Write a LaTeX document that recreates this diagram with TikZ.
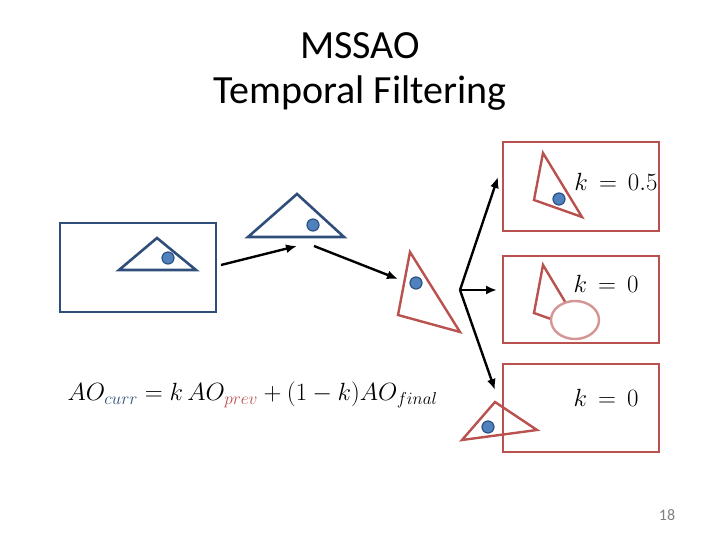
\documentclass[tikz,border=0pt]{standalone}
\usepackage{amsmath}
\usepackage{fontspec}
\setmainfont{Carlito}
\usepackage{tikz}
\usetikzlibrary{arrows.meta}

\definecolor{frameblue}{HTML}{2F4E79}
\definecolor{dotblue}{HTML}{4F81BD}
\definecolor{dotedge}{HTML}{2E5286}
\definecolor{framered}{HTML}{B9514E}
\definecolor{palered}{HTML}{D59593}

\tikzset{
  bluebox/.style={draw=frameblue, line width=2.6pt},
  redbox/.style={draw=framered, line width=2.6pt},
  bluetri/.style={draw=frameblue, line width=2.6pt, line join=miter},
  redtri/.style={draw=framered, line width=2.4pt, line join=miter},
  sample/.style={fill=dotblue, draw=dotedge, line width=1.2pt},
  flow/.style={black, line width=2.4pt, -{Latex[length=11pt,width=9pt]}},
  klabel/.style={font=\fontsize{23}{26}\selectfont}
}

\begin{document}
\begin{tikzpicture}[x=1pt,y=-1pt]
                    \useasboundingbox (0,0) rectangle (720,540);
                    % title
                    \node[font=\fontsize{40}{46}\selectfont] (title) at (360,46) {MSSAO};
                    \node[font=\fontsize{40}{46}\selectfont] (subtitle) at (360,93) {Temporal Filtering};
                    % current frame
                    \draw[bluebox] (60,223) rectangle (216,312);
                    \draw[bluetri] (119,270) -- (157,238) -- (196,270) -- cycle;
                    \draw[sample] (168,258) circle (6pt);
                    % previous position
                    \draw[bluetri] (248,237) -- (297,194) -- (344,237) -- cycle;
                    \draw[sample] (313,225) circle (6pt);
                    % reprojected
                    \draw[redtri] (410,252) -- (398,315) -- (460,332) -- cycle;
                    \draw[sample] (416,283) circle (6pt);
                    % three cases
                    \draw[redbox] (503,142) rectangle (659,231);
                    \draw[redtri] (543,153) -- (534,200) -- (582,217) -- cycle;
                    \draw[sample] (559,199) circle (6pt);
                    \node[klabel] (kA) at (616,182) {$k\,=\,0.5$};
                    \draw[redbox] (503,256) rectangle (659,343);
                    \draw[redtri] (543,265) -- (534,313) -- (582,330) -- cycle;
                    \draw[palered, line width=2.4pt, fill=white] (575,320) ellipse (24pt and 19pt);
                    \node[klabel] (kB) at (606,284) {$k\,=\,0$};
                    \draw[redbox] (503,364) rectangle (659,452);
                    \draw[redtri] (495,402) -- (462,440) -- (537,430) -- cycle;
                    \draw[sample] (488,427) circle (6pt);
                    \node[klabel] (kC) at (606,398) {$k\,=\,0$};
                    % arrows
                    \coordinate (s1) at (221,265);
                    \coordinate (e1) at (297,246);
                    \coordinate (s2) at (314,246);
                    \coordinate (e2) at (398,279);
                    \coordinate (fork) at (460,290);
                    \coordinate (up) at (498,177);
                    \coordinate (mid) at (497,290);
                    \coordinate (down) at (495,390);
                    \draw[flow] (s1) -- (e1);
                    \draw[flow] (s2) -- (e2);
                    \draw[flow] (fork) -- (up);
                    \draw[flow] (fork) -- (mid);
                    \draw[flow] (fork) -- (down);
                    % update rule
                    \node[font=\fontsize{26}{30}\selectfont, anchor=west] (rule) at (64,395)
                      {$AO_{\textcolor{frameblue}{curr}}=k\,AO_{\textcolor{framered}{prev}}+(1-k)AO_{final}$};
                    % page number
                    \node[text=gray, font=\fontsize{16}{18}\selectfont] (page) at (667,515) {18};
                \end{tikzpicture}
\end{document}
